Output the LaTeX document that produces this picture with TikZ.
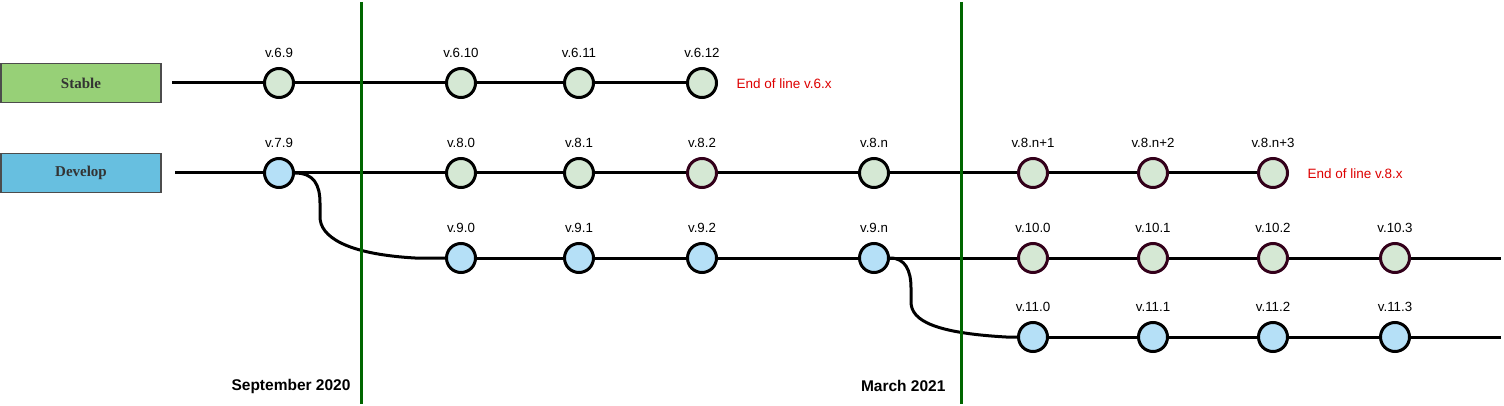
\documentclass[tikz,border=0pt]{standalone}
\usepackage{fontspec}
\setmainfont{Liberation Sans}
\newfontfamily\boxfont{Liberation Serif}

\definecolor{stablegreen}{HTML}{97D077}
\definecolor{developblue}{HTML}{67BFE0}
\definecolor{relgreen}{HTML}{D5E8D4}
\definecolor{relblue}{HTML}{B5E0F7}
\definecolor{eolmaroon}{HTML}{33001A}
\definecolor{monthgreen}{HTML}{006600}
\definecolor{eolred}{HTML}{DD0000}

\begin{document}
\begin{tikzpicture}[x=1pt, y=-1pt,
    branchbox/.style={draw=black!70, line width=1.5pt, minimum width=160pt, minimum height=39pt,
        inner sep=0pt, text=black!80, font=\boxfont\bfseries\fontsize{15}{17}\selectfont},
    release/.style={circle, draw=black, line width=3pt, minimum size=29pt, inner sep=0pt},
    oldrel/.style={release, fill=relgreen},
    newrel/.style={release, fill=relblue},
    eolrel/.style={release, fill=relgreen, draw=eolmaroon},
    vtext/.style={font=\fontsize{13.3}{15}\selectfont},
    eoltext/.style={anchor=west, text=eolred, font=\fontsize{13.5}{15}\selectfont},
    datetext/.style={anchor=east, font=\bfseries\fontsize{15.5}{17}\selectfont},
    branch/.style={line width=3pt, black},
    month/.style={line width=3pt, monthgreen}]
            \useasboundingbox (0,0) rectangle (1504,406);

            % branch boxes
            \node[branchbox, fill=stablegreen] (stable) at (81,83) {Stable};
            \node[branchbox, fill=developblue] (develop) at (81,173) {Develop};
            \coordinate (stable-start) at (172,83);
            \coordinate (develop-start) at (175,173);
            \coordinate (ten-end) at (1501,258);
            \coordinate (eleven-end) at (1501,337);

            % releases
            \foreach \x/\n/\t in {279/s69/v.6.9, 461/s610/v.6.10, 579/s611/v.6.11, 702/s612/v.6.12} {
                \node[oldrel] (\n) at (\x,83) {};
                \node[vtext] (\n-label) at (\x,53) {\t};
            }
            \node[newrel] (d79) at (279,173) {};
            \foreach \x/\n/\t in {461/d80/v.8.0, 579/d81/v.8.1, 874/d8n/v.8.n} {
                \node[oldrel] (\n) at (\x,173) {};
            }
            \foreach \x/\n/\t in {702/d82/v.8.2, 1033/d8n1/v.8.n+1, 1153/d8n2/v.8.n+2, 1273/d8n3/v.8.n+3} {
                \node[eolrel] (\n) at (\x,173) {};
            }
            \foreach \x/\t in {279/v.7.9, 461/v.8.0, 579/v.8.1, 702/v.8.2, 874/v.8.n, 1033/v.8.n+1, 1153/v.8.n+2, 1273/v.8.n+3} {
                \node[vtext] (d-label-\x) at (\x,143) {\t};
            }
            \foreach \x/\n/\t in {461/n90/v.9.0, 579/n91/v.9.1, 702/n92/v.9.2, 874/n9n/v.9.n} {
                \node[newrel] (\n) at (\x,258) {};
                \node[vtext] (\n-label) at (\x,228) {\t};
            }
            \foreach \x/\n/\t in {1033/t100/v.10.0, 1153/t101/v.10.1, 1273/t102/v.10.2, 1395/t103/v.10.3} {
                \node[eolrel] (\n) at (\x,258) {};
                \node[vtext] (\n-label) at (\x,228) {\t};
            }
            \foreach \x/\n/\t in {1033/e110/v.11.0, 1153/e111/v.11.1, 1273/e112/v.11.2, 1395/e113/v.11.3} {
                \node[newrel] (\n) at (\x,337) {};
                \node[vtext] (\n-label) at (\x,307) {\t};
            }

            % branches
            \draw[branch] (stable-start) -- (s69) -- (s610) -- (s611) -- (s612);
            \draw[branch] (develop-start) -- (d79) -- (d80) -- (d81) -- (d82) -- (d8n) -- (d8n1) -- (d8n2) -- (d8n3);
            \draw[branch] (n90) -- (n91) -- (n92) -- (n9n) -- (t100) -- (t101) -- (t102) -- (t103) -- (ten-end);
            \draw[branch] (e110) -- (e111) -- (e112) -- (e113) -- (eleven-end);
            \draw[branch] (d79.east) .. controls (314,173) and (320,185) .. (320,203) -- (320,217)
                .. controls (320,236) and (345,254) .. (415,258) -- (n90);
            \draw[branch] (n9n.east) .. controls (905,258) and (911,270) .. (911,288) -- (911,302)
                .. controls (911,321) and (936,333) .. (1006,337) -- (e110);

            % months
            \coordinate (sep-top) at (361,2);
            \coordinate (sep-bottom) at (361,404);
            \coordinate (mar-top) at (961,2);
            \coordinate (mar-bottom) at (961,404);
            \draw[month] (sep-top) -- (sep-bottom);
            \draw[month] (mar-top) -- (mar-bottom);
            \node[datetext] (sep) at (354,386) {September 2020};
            \node[datetext] (mar) at (949,386) {March 2021};

            % end of line
            \node[eoltext] (eol6) at (733,84) {End of line v.6.x};
            \node[eoltext] (eol8) at (1304,174) {End of line v.8.x};
        \end{tikzpicture}
\end{document}
